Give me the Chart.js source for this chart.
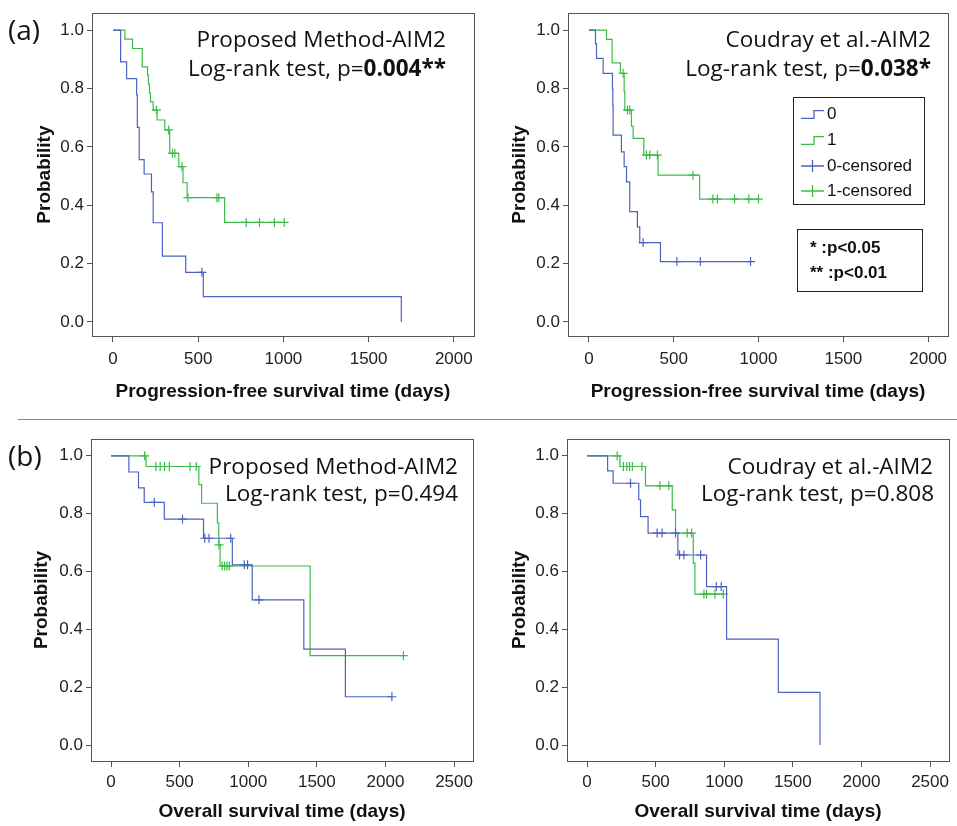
<!DOCTYPE html>
<html>
<head>
<meta charset="utf-8">
<script src="https://cdn.jsdelivr.net/npm/chart.js@4.4.1/dist/chart.umd.min.js"></script>
<style>
  html, body { margin: 0; padding: 0; background: #fff; }
  #page { position: relative; width: 957px; height: 826px; overflow: hidden; font-family: 'Open Sans', sans-serif; color: #111; }
  canvas { position: absolute; }
  .lbl { position: absolute; font-size: 22.5px; line-height: 30px; white-space: nowrap; transform: translateY(-50%); }
  .tag { position: absolute; left: 8px; font-size: 28px; line-height: 34px; transform: translateY(-50%); }
  .box { position: absolute; border: 1.5px solid #222; box-sizing: border-box; font-family: 'Liberation Sans', Arial, sans-serif; font-size: 17px; color: #111; }
  .row { position: absolute; white-space: nowrap; line-height: 20px; transform: translateY(-50%); }
  .row svg { position: absolute; left: -26px; top: 2px; }
  .divider { position: absolute; left: 18px; top: 419px; width: 939px; border-top: 1.5px solid #888; }
</style>
</head>
<body>
<div id="page">
  <canvas id="pfsProp" width="480" height="412" style="left:0;top:0;width:480px;height:412px"></canvas>
  <canvas id="pfsCoud" width="479" height="412" style="left:478px;top:0;width:479px;height:412px"></canvas>
  <canvas id="osProp" width="480" height="406" style="left:0;top:420px;width:480px;height:406px"></canvas>
  <canvas id="osCoud" width="479" height="406" style="left:478px;top:420px;width:479px;height:406px"></canvas>

  <div class="tag" style="top:29px">(a)</div>
  <div class="tag" style="top:455px">(b)</div>
  <div class="divider"></div>

  <div class="lbl" style="right:511px;top:39px">Proposed Method-AIM2</div>
  <div class="lbl" style="right:511px;top:68px">Log-rank test, p=<b>0.004**</b></div>
  <div class="lbl" style="right:26px;top:39px">Coudray et al.-AIM2</div>
  <div class="lbl" style="right:26px;top:68px">Log-rank test, p=<b>0.038*</b></div>
  <div class="lbl" style="right:499px;top:466px">Proposed Method-AIM2</div>
  <div class="lbl" style="right:499px;top:493px">Log-rank test, p=0.494</div>
  <div class="lbl" style="right:24px;top:466px">Coudray et al.-AIM2</div>
  <div class="lbl" style="right:23px;top:493px">Log-rank test, p=0.808</div>

  <div class="box" style="left:793px;top:97px;width:132px;height:108px">
    <div class="row" style="left:33px;top:16px"><svg width="24" height="16"><path d="M0 12.3H13V4.7H23" fill="none" stroke="#4c63c2" stroke-width="1.3"/></svg>0</div>
    <div class="row" style="left:33px;top:42px"><svg width="24" height="16"><path d="M0 12.3H13V4.7H23" fill="none" stroke="#3dbb4a" stroke-width="1.3"/></svg>1</div>
    <div class="row" style="left:33px;top:68px"><svg width="24" height="16"><path d="M0 8H23M11.5 2V14" fill="none" stroke="#4c63c2" stroke-width="1.3"/></svg>0-censored</div>
    <div class="row" style="left:33px;top:93px"><svg width="24" height="16"><path d="M0 8H23M11.5 2V14" fill="none" stroke="#3dbb4a" stroke-width="1.3"/></svg>1-censored</div>
  </div>
  <div class="box" style="left:797px;top:229px;width:126px;height:63px;font-weight:bold">
    <div class="row" style="left:12px;top:18px">* :p&lt;0.05</div>
    <div class="row" style="left:12px;top:43px">** :p&lt;0.01</div>
  </div>
</div>
<script>
// axis ticks
const pfsTicks = [0, 500, 1000, 1500, 2000];
const osTicks = [0, 500, 1000, 1500, 2000, 2500];
const probTicks = [0, 0.2, 0.4, 0.6, 0.8, 1];

// (a) progression-free survival, proposed method
const pfsPropDays0 = [0, 45, 80, 139, 143, 154, 183, 226, 236, 290, 427, 530, 1692];
const pfsPropSurv0 = [1, 0.891, 0.834, 0.778, 0.667, 0.556, 0.507, 0.446, 0.34, 0.226, 0.17, 0.087, 0];
const pfsPropCens0 = [522];
const pfsPropDays1 = [0, 70, 115, 172, 203, 208, 214, 220, 236, 259, 304, 333, 386, 411, 435, 655, 1005];
const pfsPropSurv1 = [1, 0.969, 0.937, 0.874, 0.846, 0.815, 0.785, 0.754, 0.726, 0.692, 0.658, 0.578, 0.532, 0.477, 0.426, 0.341, 0.341];
const pfsPropCens1 = [255, 327, 349, 363, 405, 440, 610, 621, 782, 860, 947, 1005];

// (a) progression-free survival, Coudray et al.
const pfsCoudDays0 = [0, 39, 45, 84, 139, 141, 143, 192, 208, 222, 241, 286, 300, 422, 953];
const pfsCoudSurv0 = [1, 0.954, 0.903, 0.852, 0.8, 0.743, 0.64, 0.583, 0.532, 0.48, 0.378, 0.326, 0.272, 0.207, 0.207];
const pfsCoudCens0 = [320, 519, 657, 953];
const pfsCoudDays1 = [0, 104, 137, 186, 208, 212, 251, 261, 324, 408, 653, 1000];
const pfsCoudSurv1 = [1, 0.968, 0.888, 0.852, 0.79, 0.726, 0.671, 0.629, 0.572, 0.503, 0.421, 0.421];
const pfsCoudCens1 = [202, 228, 241, 339, 359, 404, 614, 731, 757, 859, 943, 1000];

// (b) overall survival, proposed method
const osPropDays0 = [0, 130, 200, 242, 388, 674, 884, 1029, 1405, 1708, 2047];
const osPropSurv0 = [1, 0.944, 0.889, 0.839, 0.781, 0.715, 0.623, 0.502, 0.332, 0.167, 0.167];
const osPropCens0 = [315, 521, 683, 714, 872, 971, 995, 1078, 2047];
const osPropDays1 = [0, 255, 640, 660, 775, 785, 795, 1451, 2131];
const osPropSurv1 = [1, 0.963, 0.9, 0.836, 0.768, 0.692, 0.619, 0.309, 0.309];
const osPropCens1 = [245, 327, 358, 390, 425, 576, 621, 787, 810, 828, 845, 862, 2131];

// (b) overall survival, Coudray et al.
const osCoudDays0 = [0, 150, 190, 377, 390, 445, 662, 871, 1017, 1394, 1698];
const osCoudSurv0 = [1, 0.948, 0.905, 0.848, 0.79, 0.733, 0.657, 0.548, 0.366, 0.182, 0];
const osCoudCens0 = [317, 511, 547, 645, 674, 706, 828, 942, 978];
const osCoudDays1 = [0, 240, 426, 621, 645, 774, 786, 993];
const osCoudSurv1 = [1, 0.963, 0.896, 0.813, 0.733, 0.629, 0.522, 0.522];
const osCoudCens1 = [220, 265, 290, 310, 330, 400, 531, 596, 730, 762, 852, 871, 932, 993];

const blue = '#4c63c2';
const green = '#3dbb4a';
const tickFont = "'Liberation Sans', Arial, sans-serif";

// survival level of a step curve at day t
function levelAt(days, surv, t) {
  let s = surv[0];
  for (let i = 0; i < days.length; i++) if (days[i] <= t) s = surv[i];
  return s;
}

const frame = {
  id: 'frame',
  afterDatasetsDraw(chart) {
    const { ctx, chartArea: a } = chart;
    ctx.save();
    ctx.strokeStyle = '#555';
    ctx.lineWidth = 1;
    ctx.strokeRect(Math.round(a.left) + 0.5, Math.round(a.top) + 0.5, Math.round(a.right - a.left), Math.round(a.bottom - a.top));
    ctx.restore();
  }
};

function panel(id, o) {
  const datasets = [];
  o.groups.forEach(g => {
    datasets.push({
      data: g.days.map((d, i) => ({ x: d, y: g.surv[i] })),
      borderColor: g.color, borderWidth: 1.2, stepped: 'before', pointRadius: 0, fill: false
    });
    datasets.push({
      data: g.cens.map(d => ({ x: d, y: levelAt(g.days, g.surv, d) })),
      showLine: false, borderColor: g.color, backgroundColor: g.color,
      pointStyle: 'cross', pointRadius: 4.5, pointBorderWidth: 1.2
    });
  });

  new Chart(document.getElementById(id), {
    type: 'line',
    data: { datasets },
    plugins: [frame],
    options: {
      responsive: false,
      animation: false,
      devicePixelRatio: 1,
      events: [],
      layout: { padding: o.pad },
      plugins: { legend: { display: false }, tooltip: { enabled: false } },
      scales: {
        x: {
          type: 'linear', min: o.xMin, max: o.xMax,
          afterBuildTicks: s => { s.ticks = o.xTicks.map(v => ({ value: v })); },
          afterFit: s => { s.height = o.xh; },
          grid: { display: true, drawOnChartArea: false, tickLength: 6, tickColor: '#555', color: '#555' },
          border: { display: false },
          ticks: { color: '#222', font: { family: tickFont, size: 17 }, padding: o.xTickPad, maxRotation: 0, autoSkip: false, callback: v => String(v) },
          title: { display: true, text: o.xTitle, color: '#111', font: { family: tickFont, size: 19, weight: 'bold' }, padding: { top: 0, bottom: o.xTitlePad } }
        },
        y: {
          min: o.yMin, max: o.yMax,
          afterBuildTicks: s => { s.ticks = probTicks.map(v => ({ value: v })); },
          afterFit: s => { s.width = o.yw; },
          grid: { display: true, drawOnChartArea: false, tickLength: 5, tickColor: '#555', color: '#555' },
          border: { display: false },
          ticks: { color: '#222', font: { family: tickFont, size: 17 }, padding: 3, callback: v => v.toFixed(1) },
          title: { display: true, text: 'Probability', color: '#111', font: { family: tickFont, size: 19, weight: 'bold' }, padding: { top: o.yTitlePad, bottom: 0 } }
        }
      }
    }
  });
}

const pfsTitle = 'Progression-free survival time (days)';
const osTitle = 'Overall survival time (days)';

panel('pfsProp', {
  pad: { top: 13, right: 5, left: 0, bottom: 0 }, yw: 92, xh: 76, xTickPad: 7, xTitlePad: 8.6, yTitlePad: 33.6,
  xMin: -123, xMax: 2117, yMin: -0.048, yMax: 1.058, xTicks: pfsTicks, xTitle: pfsTitle,
  groups: [
    { days: pfsPropDays0, surv: pfsPropSurv0, cens: pfsPropCens0, color: blue },
    { days: pfsPropDays1, surv: pfsPropSurv1, cens: pfsPropCens1, color: green }
  ]
});
panel('pfsCoud', {
  pad: { top: 13, right: 9, left: 0, bottom: 0 }, yw: 90, xh: 76, xTickPad: 7, xTitlePad: 8.6, yTitlePad: 30.6,
  xMin: -123, xMax: 2117, yMin: -0.048, yMax: 1.058, xTicks: pfsTicks, xTitle: pfsTitle,
  groups: [
    { days: pfsCoudDays0, surv: pfsCoudSurv0, cens: pfsCoudCens0, color: blue },
    { days: pfsCoudDays1, surv: pfsCoudSurv1, cens: pfsCoudCens1, color: green }
  ]
});
panel('osProp', {
  pad: { top: 19, right: 7, left: 0, bottom: 0 }, yw: 91, xh: 65, xTickPad: 5, xTitlePad: 2.6, yTitlePad: 30.6,
  xMin: -146, xMax: 2638, yMin: -0.055, yMax: 1.058, xTicks: osTicks, xTitle: osTitle,
  groups: [
    { days: osPropDays0, surv: osPropSurv0, cens: osPropCens0, color: blue },
    { days: osPropDays1, surv: osPropSurv1, cens: osPropCens1, color: green }
  ]
});
panel('osCoud', {
  pad: { top: 19, right: 8, left: 0, bottom: 0 }, yw: 89, xh: 65, xTickPad: 5, xTitlePad: 2.6, yTitlePad: 30.6,
  xMin: -146, xMax: 2638, yMin: -0.055, yMax: 1.058, xTicks: osTicks, xTitle: osTitle,
  groups: [
    { days: osCoudDays0, surv: osCoudSurv0, cens: osCoudCens0, color: blue },
    { days: osCoudDays1, surv: osCoudSurv1, cens: osCoudCens1, color: green }
  ]
});
</script>
</body>
</html>
